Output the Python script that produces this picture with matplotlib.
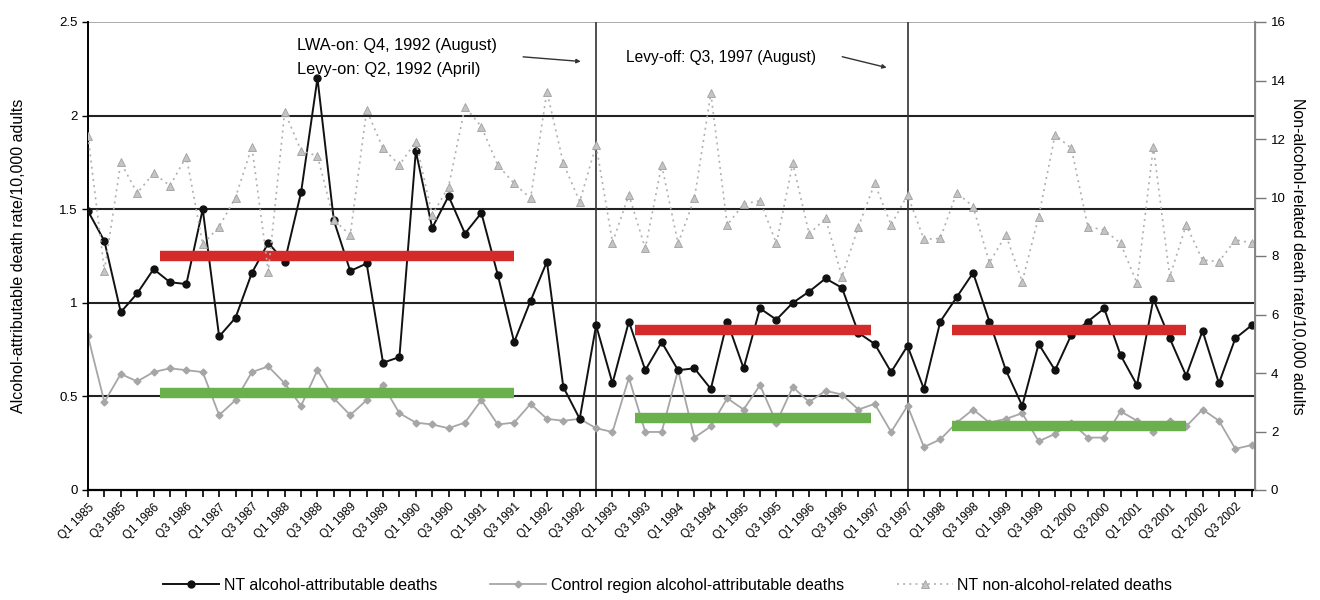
import matplotlib
matplotlib.use("Agg")
import matplotlib.pyplot as plt
import numpy as np

plt.rcParams['font.family'] = ['Liberation Sans', 'DejaVu Sans']

# ---------------- data ----------------
years = list(range(1985, 2003))
quarters = [f"Q{q} {y}" for y in years for q in (1, 2, 3, 4)]

nt_alcohol = [1.49, 1.33, 0.95, 1.05, 1.18, 1.11, 1.10, 1.50, 0.82, 0.92,
              1.16, 1.32, 1.22, 1.59, 2.20, 1.44, 1.17, 1.21, 0.68, 0.71,
              1.81, 1.40, 1.57, 1.37, 1.48, 1.15, 0.79, 1.01, 1.22, 0.55,
              0.38, 0.88, 0.57, 0.90, 0.64, 0.79, 0.64, 0.65, 0.54, 0.90,
              0.65, 0.97, 0.91, 1.00, 1.06, 1.13, 1.08, 0.84, 0.78, 0.63,
              0.77, 0.54, 0.90, 1.03, 1.16, 0.90, 0.64, 0.45, 0.78, 0.64,
              0.83, 0.90, 0.97, 0.72, 0.56, 1.02, 0.81, 0.61, 0.85, 0.57,
              0.81, 0.88]

control_alcohol = [0.82, 0.47, 0.62, 0.58, 0.63, 0.65, 0.64, 0.63, 0.40, 0.48,
                   0.63, 0.66, 0.57, 0.45, 0.64, 0.49, 0.40, 0.48, 0.56, 0.41,
                   0.36, 0.35, 0.33, 0.36, 0.48, 0.35, 0.36, 0.46, 0.38, 0.37,
                   0.38, 0.33, 0.31, 0.60, 0.31, 0.31, 0.64, 0.28, 0.34, 0.49,
                   0.43, 0.56, 0.36, 0.55, 0.47, 0.53, 0.51, 0.43, 0.46, 0.31,
                   0.45, 0.23, 0.27, 0.36, 0.43, 0.36, 0.38, 0.41, 0.26, 0.30,
                   0.36, 0.28, 0.28, 0.42, 0.37, 0.31, 0.37, 0.34, 0.43, 0.37,
                   0.22, 0.24]

nt_non_alcohol = [12.1, 7.5, 11.2, 10.15, 10.83, 10.4, 11.4, 8.4, 9.0, 10.0,
                  11.74, 7.46, 12.93, 11.6, 11.42, 9.23, 8.72, 12.99, 11.68, 11.11,
                  11.91, 9.4, 10.37, 13.1, 12.42, 11.11, 10.48, 9.97, 13.62, 11.17,
                  9.86, 11.79, 8.46, 10.09, 8.26, 11.11, 8.43, 9.97, 13.56, 9.06,
                  9.78, 9.89, 8.43, 11.17, 8.75, 9.29, 7.29, 9.0, 10.48, 9.06,
                  10.09, 8.57, 8.6, 10.17, 9.69, 7.77, 8.72, 7.12, 9.34, 12.14,
                  11.68, 9.0, 8.89, 8.43, 7.07, 11.74, 7.29, 9.06, 7.86, 7.81,
                  8.55, 8.45]

# period means (start / end in quarter index)
period_start = [4.4, 33.4, 52.7]
period_end = [26.0, 47.8, 67.0]
nt_means = [1.25, 0.855, 0.856]
control_means = [0.52, 0.385, 0.34]

# intervention quarters
intervention_idx = [31, 50]

left_ticks = [0, 0.5, 1, 1.5, 2, 2.5]
right_ticks = [0, 2, 4, 6, 8, 10, 12, 14, 16]

# ---------------- figure ----------------
fig = plt.figure(figsize=(13.2, 6), dpi=100)
ax = fig.add_axes([88 / 1320, 110 / 600, (1255 - 88) / 1320, 468 / 600])
ax2 = ax.twinx()

x = np.arange(len(quarters))

# grid lines
for v in left_ticks[1:-1]:
    ax.axhline(v, color='#222222', lw=1.5, zorder=1)
ax.axhline(2.5, color='#aaaaaa', lw=1.4, zorder=1)

for xi in intervention_idx:
    ax.axvline(xi, color='#333333', lw=1.2, zorder=1)

ax.plot(x, control_alcohol, color='#a6a6a6', lw=1.3, marker='D', ms=3.5,
        mfc='#a6a6a6', mec='#a6a6a6', zorder=2,
        label='Control region alcohol-attributable deaths')
ax.plot(x, nt_alcohol, color='#111111', lw=1.4, marker='o', ms=5,
        mfc='#111111', mec='#111111', zorder=3,
        label='NT alcohol-attributable deaths')

for s, e, m in zip(period_start, period_end, nt_means):
    ax.plot([s, e], [m, m], color='#d42a2a', lw=7.5, solid_capstyle='butt', zorder=4)
for s, e, m in zip(period_start, period_end, control_means):
    ax.plot([s, e], [m, m], color='#6ab04c', lw=7.5, solid_capstyle='butt', zorder=4)

ax2.plot(x, nt_non_alcohol, color='#b0b0b0', lw=1.2, ls=(0, (1.2, 2.5)),
         marker='^', ms=5.5, mfc='#c4c4c4', mec='#a0a0a0', mew=0.6, zorder=2,
         label='NT non-alcohol-related deaths')

ax.set_xlim(0, 71.2)
ax.set_ylim(0, 2.5)
ax2.set_ylim(0, 16)

ax.set_yticks(left_ticks)
ax.set_yticklabels(['0', '0.5', '1', '1.5', '2', '2.5'], fontsize=9.5)
ax2.set_yticks(right_ticks)
ax2.set_yticklabels([str(t) for t in right_ticks], fontsize=9.5)

ax.set_xticks(x[::2])
ax.set_xticks(x[1::2], minor=True)
ax.set_xticklabels(quarters[::2], rotation=45, ha='right', rotation_mode='anchor',
                   fontsize=8.5)
ax.tick_params(axis='x', which='both', length=5, width=1.2, direction='out', pad=3)
ax.tick_params(axis='y', length=4, width=1.0)
ax2.tick_params(axis='y', length=8, width=1.0, color='#777777')

for sp in ['top']:
    ax.spines[sp].set_visible(False)
    ax2.spines[sp].set_visible(False)
ax.spines['left'].set_linewidth(1.4)
ax.spines['bottom'].set_linewidth(1.6)
ax2.spines['right'].set_color('#888888')
ax2.spines['right'].set_linewidth(1.4)
ax2.spines['left'].set_visible(False)
ax2.spines['bottom'].set_visible(False)

ax.set_ylabel('Alcohol-attributable death rate/10,000 adults', fontsize=11.5, labelpad=24)
ax2.set_ylabel('Non-alcohol-related death rate/10,000 adults', fontsize=11.5,
               rotation=270, labelpad=14)

# annotations
ax.text(12.77, 2.377, 'LWA-on: Q4, 1992 (August)', fontsize=11.8, va='center', ha='left')
ax.text(12.77, 2.244, 'Levy-on: Q2, 1992 (April)', fontsize=11.8, va='center', ha='left')
ax.annotate('', xy=(30.23, 2.288), xytext=(26.38, 2.315),
            arrowprops=dict(arrowstyle='-|>', color='#333333', lw=1.0,
                            mutation_scale=6))
ax.text(32.8, 2.308, 'Levy-off: Q3, 1997 (August)', fontsize=11.2, va='center', ha='left')
ax.annotate('', xy=(48.89, 2.253), xytext=(45.85, 2.318),
            arrowprops=dict(arrowstyle='-|>', color='#333333', lw=1.0,
                            mutation_scale=6))

h1, l1 = ax.get_legend_handles_labels()
h2, l2 = ax2.get_legend_handles_labels()
order = [1, 0]
handles = [h1[i] for i in order] + h2
labels = [l1[i] for i in order] + l2
fig.legend(handles, labels, loc='lower center', ncol=3, frameon=False,
           fontsize=11.5, bbox_to_anchor=(0.506, -0.012), columnspacing=3.3,
           handlelength=3.5, handletextpad=0.3)

fig.savefig('out.png', dpi=100)
